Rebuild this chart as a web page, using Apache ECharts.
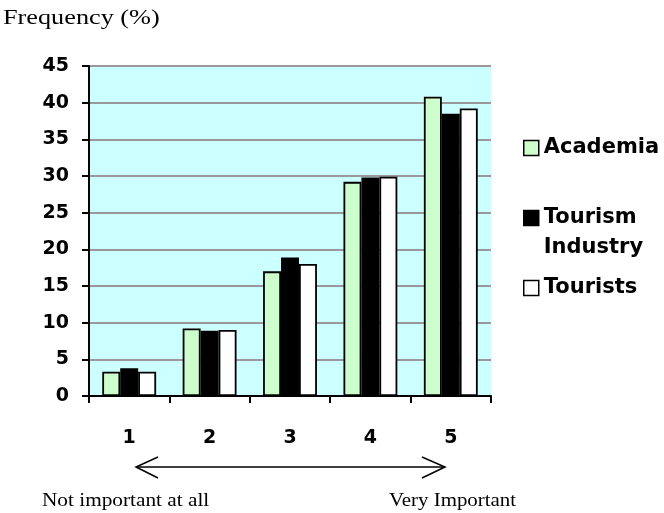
<!DOCTYPE html>
<html>
<head>
<meta charset="utf-8">
<script src="https://cdn.jsdelivr.net/npm/echarts@6/dist/echarts.min.js"></script>
<style>
  html, body { margin: 0; padding: 0; background: #fff; }
  #chart { width: 664px; height: 513px; }
</style>
</head>
<body>
<div id="chart"></div>
<script>
// importance levels 1..5
var categories = ['1', '2', '3', '4', '5'];
var academia = [3.3, 9.2, 17.0, 29.2, 40.8];
var tourismIndustry = [3.8, 8.9, 18.9, 29.8, 38.5];
var tourists = [3.3, 9.0, 18.0, 29.9, 39.2];
var seriesNames = ['Academia', 'Tourism\nIndustry', 'Tourists'];
var seriesColors = ['#ccffcc', '#000000', '#ffffff'];

var chart = echarts.init(document.getElementById('chart'));

var sans = 'DejaVu Sans';
var serif = 'Liberation Serif';

function bar(name, data, color) {
  return {
    name: name,
    type: 'bar',
    data: data,
    barGap: '0%',
    barCategoryGap: '33%',
    itemStyle: { color: color, borderColor: '#000', borderWidth: 1.8 }
  };
}

chart.setOption({
  animation: false,
  backgroundColor: '#fff',
  grid: { left: 89, right: 173, top: 66, bottom: 117, backgroundColor: '#ccffff', show: true, borderWidth: 0 },
  legend: {
    orient: 'vertical',
    left: 523,
    top: 133,
    padding: 0,
    itemWidth: 15,
    itemHeight: 15,
    itemGap: 10,
    icon: 'rect',
    // empty first line keeps the icon level with "Tourism"
    formatter: function (name) {
      return name.indexOf('\n') >= 0 ? '\n' + name : name;
    },
    textStyle: { fontFamily: sans, fontWeight: 'bold', fontSize: 21, color: '#000', lineHeight: 30 },
    data: seriesNames.map(function (n, i) {
      return { name: n, itemStyle: { color: seriesColors[i], borderColor: '#000', borderWidth: 1.5 } };
    })
  },
  xAxis: {
    type: 'category',
    data: categories,
    axisLine: { lineStyle: { color: '#000', width: 2 } },
    axisTick: { show: true, length: 7, lineStyle: { color: '#000', width: 2 } },
    axisLabel: { margin: 33, fontFamily: sans, fontWeight: 'bold', fontSize: 19, color: '#000' }
  },
  yAxis: {
    type: 'value',
    min: 0,
    max: 45,
    interval: 5,
    axisLine: { show: true, lineStyle: { color: '#000', width: 2 } },
    axisTick: { show: true, length: 7, lineStyle: { color: '#000', width: 2 } },
    axisLabel: { margin: 20, fontFamily: sans, fontWeight: 'bold', fontSize: 19, color: '#000' },
    splitLine: { lineStyle: { color: '#999', width: 2 } }
  },
  series: [
    bar(seriesNames[0], academia, seriesColors[0]),
    bar(seriesNames[1], tourismIndustry, seriesColors[1]),
    bar(seriesNames[2], tourists, seriesColors[2])
  ],
  graphic: [
    { type: 'text', left: 3, top: 8, scaleX: 1.25, style: { text: 'Frequency (%)', fontFamily: serif, fontSize: 21, fill: '#000' } },
    { type: 'line', shape: { x1: 136, y1: 467, x2: 445, y2: 467 }, style: { stroke: '#000', lineWidth: 1.5 } },
    { type: 'polyline', shape: { points: [[158, 457], [136, 467], [158, 478]] }, style: { stroke: '#000', lineWidth: 1.5, fill: null } },
    { type: 'polyline', shape: { points: [[422, 457], [445, 467], [422, 478]] }, style: { stroke: '#000', lineWidth: 1.5, fill: null } },
    { type: 'text', left: 42, top: 492, scaleX: 1.12, style: { text: 'Not important at all', fontFamily: serif, fontSize: 19, fill: '#000' } },
    { type: 'text', left: 389, top: 492, scaleX: 1.1, style: { text: 'Very Important', fontFamily: serif, fontSize: 19, fill: '#000' } }
  ]
});
</script>
</body>
</html>
